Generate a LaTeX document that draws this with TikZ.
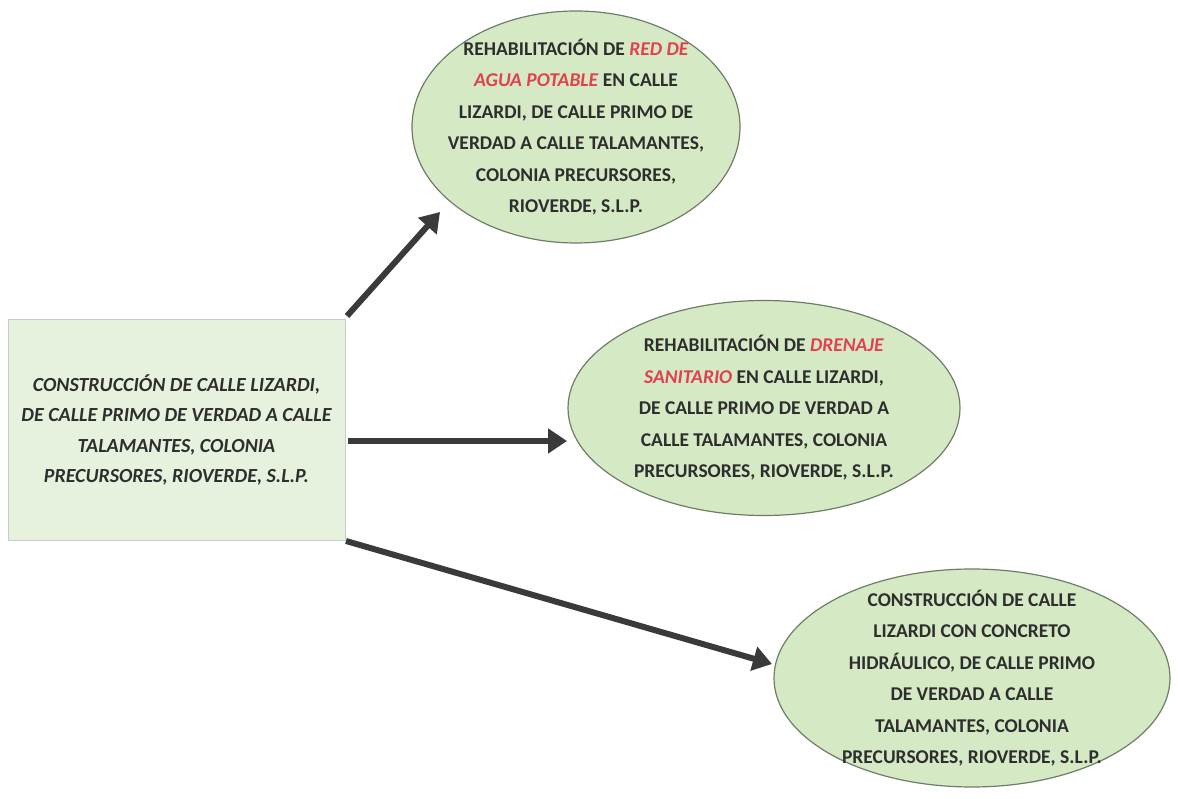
\documentclass[tikz,border=0pt]{standalone}
\usepackage{fontspec}
\setmainfont{Carlito}
\usetikzlibrary{arrows.meta,shapes.geometric}
\definecolor{ellfill}{HTML}{D5E9C5}
\definecolor{ellline}{HTML}{6E7E66}
\definecolor{boxfill}{HTML}{E6F2DE}
\definecolor{boxline}{HTML}{C4D0C4}
\definecolor{txt}{HTML}{2E2E2E}
\definecolor{redt}{HTML}{E2404E}
\definecolor{arr}{HTML}{3A3A3A}
\newcommand{\rt}[1]{\textcolor{redt}{\textit{#1}}}
\tikzset{
  ell/.style={ellipse, draw=ellline, line width=1.2pt, fill=ellfill, inner sep=-60pt,
    text=txt, font=\fontsize{19.5}{31.5}\selectfont\bfseries, align=center},
  srcbox/.style={rectangle, draw=boxline, line width=1pt, fill=boxfill,
    text=txt, font=\fontsize{20}{30.5}\selectfont\bfseries\itshape, align=center},
  bigarrow/.style={draw=arr, line width=6pt, -{Triangle[length=19pt,width=24pt]}}
}
\begin{document}
\begin{tikzpicture}[x=1pt,y=-1pt]
\useasboundingbox (0,0) rectangle (1178,799);
\node[srcbox, minimum width=337pt, minimum height=220pt] (src) at (176.5,430)
  {CONSTRUCCIÓN DE CALLE LIZARDI,\\DE CALLE PRIMO DE VERDAD A CALLE\\TALAMANTES, COLONIA\\PRECURSORES, RIOVERDE, S.L.P.};
\node[ell, minimum width=328pt, minimum height=232pt] (e1) at (576,127)
  {REHABILITACIÓN DE \rt{RED DE}\\\rt{AGUA POTABLE} EN CALLE\\LIZARDI, DE CALLE PRIMO DE\\VERDAD A CALLE TALAMANTES,\\COLONIA PRECURSORES,\\RIOVERDE, S.L.P.};
\node[ell, minimum width=392pt, minimum height=215pt] (e2) at (764,408)
  {REHABILITACIÓN DE \rt{DRENAJE}\\\rt{SANITARIO} EN CALLE LIZARDI,\\DE CALLE PRIMO DE VERDAD A\\CALLE TALAMANTES, COLONIA\\PRECURSORES, RIOVERDE, S.L.P.};
\node[ell, minimum width=396pt, minimum height=218pt] (e3) at (972,678)
  {CONSTRUCCIÓN DE CALLE\\LIZARDI CON CONCRETO\\HIDRÁULICO, DE CALLE PRIMO\\DE VERDAD A CALLE\\TALAMANTES, COLONIA\\PRECURSORES, RIOVERDE, S.L.P.};
\coordinate (a1s) at (347,316);
\coordinate (a1e) at (440,212);
\coordinate (a2s) at (348,441);
\coordinate (a2e) at (567,441);
\coordinate (a3s) at (346,541);
\coordinate (a3e) at (772,664);
\draw[bigarrow] (a1s) -- (a1e);
\draw[bigarrow] (a2s) -- (a2e);
\draw[bigarrow] (a3s) -- (a3e);
\end{tikzpicture}
\end{document}
